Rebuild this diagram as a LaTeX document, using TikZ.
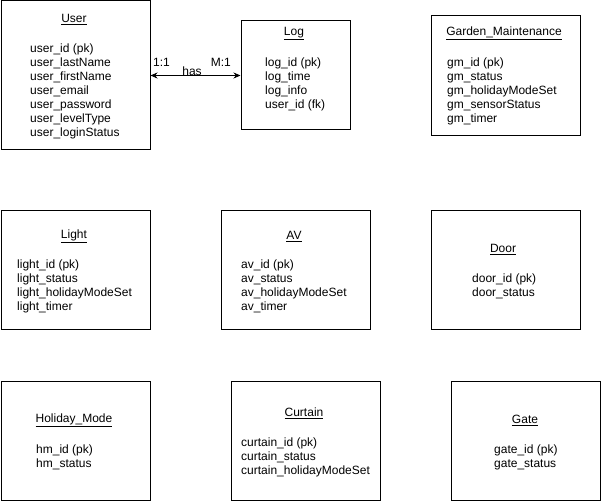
\documentclass[tikz,border=0pt]{standalone}
\usepackage{fontspec}
\setmainfont{Liberation Sans}
\usetikzlibrary{arrows.meta}
\begin{document}
\begin{tikzpicture}[x=1pt,y=-1pt,
  ent/.style={draw, line width=1pt, inner sep=0pt},
  ttl/.style={font=\fontsize{12}{14}\selectfont, inner sep=0pt, anchor=center},
  attr/.style={font=\fontsize{12}{14}\selectfont, align=left, inner sep=0pt, anchor=north west},
  lbl/.style={font=\fontsize{12}{14}\selectfont, inner sep=0pt},
  rel/.style={line width=1pt, {Stealth[length=7pt,width=6pt]}-{Stealth[length=7pt,width=6pt]}}]
\useasboundingbox (0,0) rectangle (602,502);
% boxes
\node[ent, minimum width=149pt, minimum height=149pt] (user) at (75.5,75.5) {};
\node[ent, minimum width=109pt, minimum height=109pt] (log) at (295.5,75.5) {};
\node[ent, minimum width=149pt, minimum height=120pt] (garden) at (505.5,75.5) {};
\node[ent, minimum width=149pt, minimum height=119pt] (light) at (75.5,270.5) {};
\node[ent, minimum width=149pt, minimum height=119pt] (av) at (295.5,270.5) {};
\node[ent, minimum width=149pt, minimum height=119pt] (door) at (505.5,270.5) {};
\node[ent, minimum width=149pt, minimum height=119pt] (holiday) at (75.5,440.5) {};
\node[ent, minimum width=149pt, minimum height=119pt] (curtain) at (305.5,440.5) {};
\node[ent, minimum width=149pt, minimum height=119pt] (gate) at (525.5,440.5) {};
% titles
\node[ttl] (userT) at (74,19.5) {\underline{User}};
\node[ttl] (logT) at (294,33.5) {\underline{Log}};
\node[ttl] (gardenT) at (504,33.5) {\underline{Garden\_Maintenance}};
\node[ttl] (lightT) at (74,236.5) {\underline{Light}};
\node[ttl] (avT) at (294,236.5) {\underline{AV}};
\node[ttl] (doorT) at (503,249.5) {\underline{Door}};
\node[ttl] (holidayT) at (74,420.5) {\underline{Holiday\_Mode}};
\node[ttl] (curtainT) at (304,413.5) {\underline{Curtain}};
\node[ttl] (gateT) at (525,420.5) {\underline{Gate}};
% attributes
\node[attr] (userA) at (30,43.5) {user\_id (pk)\\user\_lastName\\user\_firstName\\user\_email\\user\_password\\user\_levelType\\user\_loginStatus};
\node[attr] (logA) at (265,57.5) {log\_id (pk)\\log\_time\\log\_info\\user\_id (fk)};
\node[attr] (gardenA) at (447,57.5) {gm\_id (pk)\\gm\_status\\gm\_holidayModeSet\\gm\_sensorStatus\\gm\_timer};
\node[attr] (lightA) at (17,259.5) {light\_id (pk)\\light\_status\\light\_holidayModeSet\\light\_timer};
\node[attr] (avA) at (241,259.5) {av\_id (pk)\\av\_status\\av\_holidayModeSet\\av\_timer};
\node[attr] (doorA) at (472,273.5) {door\_id (pk)\\door\_status};
\node[attr] (holidayA) at (36,444.5) {hm\_id (pk)\\hm\_status};
\node[attr] (curtainA) at (241,437.5) {curtain\_id (pk)\\curtain\_status\\curtain\_holidayModeSet};
\node[attr] (gateA) at (494,444.5) {gate\_id (pk)\\gate\_status};
% relationship
\draw[rel] (user.east) -- (log.west);
\node[lbl, anchor=west] (card1) at (153,62.5) {1:1};
\node[lbl, anchor=east] (card2) at (231,62.5) {M:1};
\node[lbl] (has) at (192,71.5) {has};
\end{tikzpicture}
\end{document}
